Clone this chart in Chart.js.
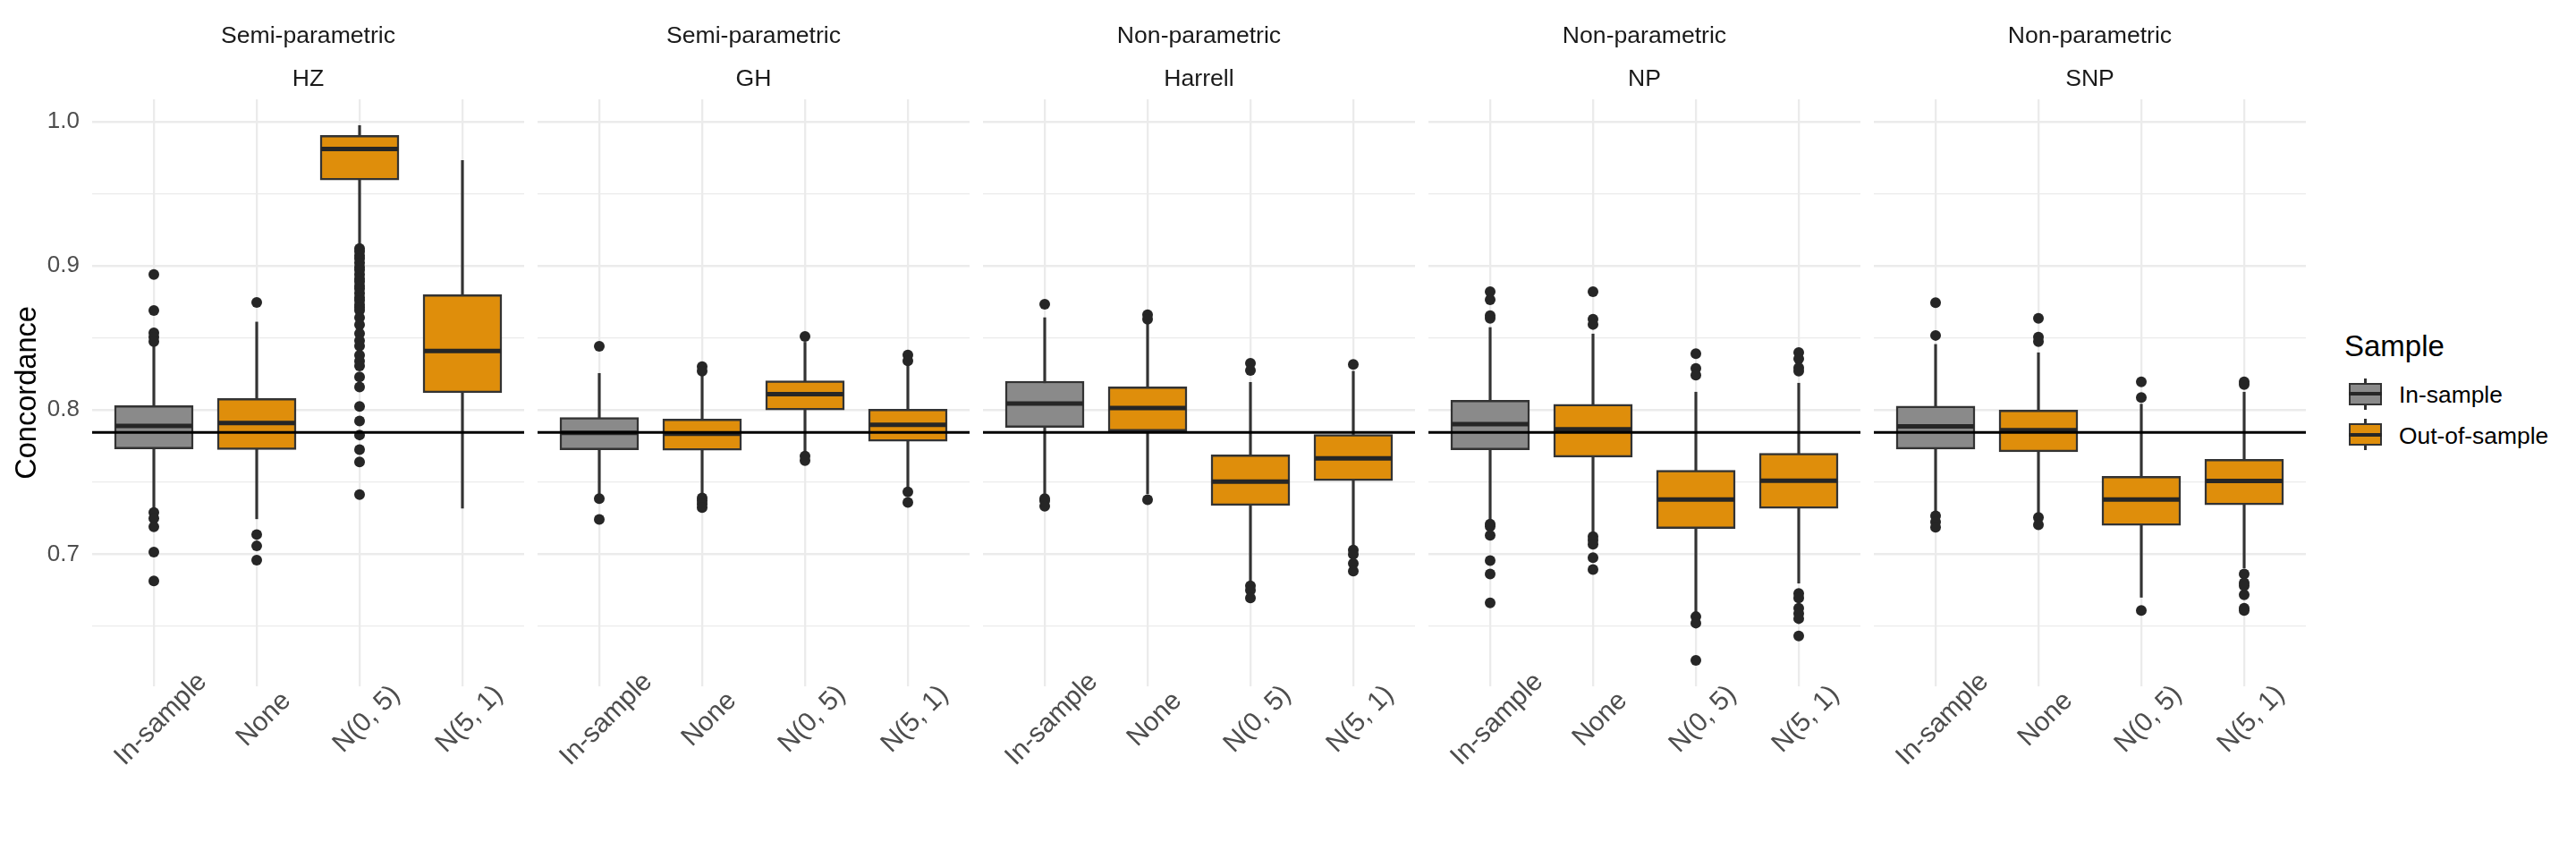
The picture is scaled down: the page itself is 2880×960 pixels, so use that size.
<!DOCTYPE html>
<html>
<head>
<meta charset="utf-8">
<script src="https://cdn.jsdelivr.net/npm/chart.js@4.4.1/dist/chart.umd.min.js"></script>
<style>
html,body{margin:0;padding:0;background:#ffffff;}
#wrap{position:relative;width:2880px;height:960px;overflow:hidden;font-family:"Liberation Sans",Arial,sans-serif;background:#fff;}
#wrap canvas{position:absolute;top:0;}
.leg{position:absolute;white-space:nowrap;}
</style>
</head>
<body>
<div id="wrap"></div>
<script>
// ---------------- DATA ----------------
const panelGroups = ["Semi-parametric", "Semi-parametric", "Non-parametric", "Non-parametric", "Non-parametric"];
const methods = ["HZ", "GH", "Harrell", "NP", "SNP"];
const conditions = ["In-sample", "None", "N(0, 5)", "N(5, 1)"];
const sampleOfCondition = ["In-sample", "Out-of-sample", "Out-of-sample", "Out-of-sample"];
const sampleLevels = ["In-sample", "Out-of-sample"];
const referenceConcordance = 0.7845;
const yTickValues = [0.65, 0.70, 0.75, 0.80, 0.85, 0.90, 0.95, 1.00];
const yMajorLabels = [0.7, 0.8, 0.9, 1.0];

// rows: methods (HZ, GH, Harrell, NP, SNP); columns: conditions
const whiskerLow = [
  [0.7315, 0.7246, 0.914, 0.732],
  [0.742, 0.7421, 0.771, 0.7463],
  [0.7421, 0.742, 0.680, 0.706],
  [0.7242, 0.7153, 0.6595, 0.680],
  [0.7287, 0.7277, 0.6702, 0.6905]
];
const quartile1 = [
  [0.773, 0.7726, 0.9594, 0.812],
  [0.7725, 0.7721, 0.800, 0.7783],
  [0.788, 0.7855, 0.7339, 0.751],
  [0.7725, 0.7674, 0.7178, 0.7318],
  [0.7729, 0.7711, 0.720, 0.7343]
];
const medians = [
  [0.789, 0.791, 0.981, 0.841],
  [0.7841, 0.7835, 0.811, 0.7897],
  [0.8045, 0.8014, 0.7504, 0.7665],
  [0.7903, 0.7866, 0.738, 0.751],
  [0.7886, 0.786, 0.738, 0.7508]
];
const quartile3 = [
  [0.803, 0.808, 0.9904, 0.880],
  [0.7948, 0.7938, 0.8202, 0.8006],
  [0.820, 0.8161, 0.769, 0.783],
  [0.8068, 0.8039, 0.7583, 0.770],
  [0.8027, 0.800, 0.7541, 0.7659]
];
const whiskerHigh = [
  [0.846, 0.861, 0.9972, 0.973],
  [0.8254, 0.8238, 0.847, 0.8316],
  [0.864, 0.860, 0.8192, 0.8269],
  [0.8572, 0.8527, 0.8124, 0.8186],
  [0.8455, 0.8397, 0.8041, 0.8124]
];

const outliersHZ = [
  [0.894, 0.869, 0.8535, 0.8505, 0.8475, 0.729, 0.725, 0.719, 0.7015, 0.6815],
  [0.8746, 0.7137, 0.7058, 0.696],
  [0.912, 0.910, 0.907, 0.905, 0.902, 0.899, 0.897, 0.894, 0.891, 0.889, 0.886, 0.884, 0.881, 0.878,
   0.876, 0.873, 0.871, 0.869, 0.864, 0.859, 0.853, 0.848, 0.8444, 0.838, 0.834, 0.8305, 0.823, 0.816,
   0.8025, 0.7924, 0.7827, 0.7726, 0.764, 0.7414],
  []
];
const outliersGH = [
  [0.8442, 0.7386, 0.7242],
  [0.830, 0.8269, 0.739, 0.737, 0.7349, 0.7324],
  [0.851, 0.768, 0.7649],
  [0.8382, 0.8341, 0.7432, 0.736]
];
const outliersHarrell = [
  [0.8733, 0.7386, 0.737, 0.7333],
  [0.8661, 0.863, 0.7378],
  [0.8324, 0.8275, 0.6781, 0.675, 0.6698],
  [0.8316, 0.7029, 0.700, 0.6936, 0.6884]
];
const outliersNP = [
  [0.882, 0.8765, 0.8655, 0.8635, 0.7209, 0.7194, 0.7132, 0.6957, 0.6864, 0.6663],
  [0.882, 0.863, 0.8593, 0.7122, 0.7097, 0.707, 0.6977, 0.6895],
  [0.839, 0.8289, 0.8242, 0.6568, 0.6523, 0.6265],
  [0.8399, 0.8355, 0.8293, 0.8269, 0.6729, 0.6698, 0.6626, 0.6589, 0.6554, 0.6434]
];
const outliersSNP = [
  [0.8744, 0.8517, 0.7266, 0.7225, 0.7188],
  [0.8636, 0.8506, 0.8475, 0.7256, 0.7205],
  [0.8196, 0.8087, 0.661],
  [0.8196, 0.8176, 0.6864, 0.6802, 0.6781, 0.6719, 0.6626, 0.661]
];
const outliers = [outliersHZ, outliersGH, outliersHarrell, outliersNP, outliersSNP];

// ---------------- STYLE / LAYOUT ----------------
const FONT = '"Liberation Sans", Arial, Helvetica, sans-serif';
const FILL = {"In-sample": "#8A8A8A", "Out-of-sample": "#DF8E0B"};
const LINE = "#333333";
const DOT = "#262626";
const GRID = "#EBEBEB";
const X_MIN = -0.6, X_MAX = 3.6;
const Y_MIN = 0.6085, Y_MAX = 1.0154;
const CANVAS_LEFT = [0, 601, 1099, 1597, 2095];
const Y_AXIS_W = 103;
const PANEL_W = 483;
const H = 960;

function isMajor(v) {
  return yMajorLabels.some(m => Math.abs(m - v) < 1e-6);
}

const xLabelPlugin = {
  id: 'rotatedXLabels',
  afterDraw(chart) {
    const ctx = chart.ctx;
    const sx = chart.scales.x;
    const yc = chart.chartArea.bottom + 37;
    ctx.save();
    ctx.font = '30px ' + FONT;
    ctx.fillStyle = '#4D4D4D';
    ctx.textAlign = 'center';
    ctx.textBaseline = 'middle';
    conditions.forEach((lab, j) => {
      const px = sx.getPixelForValue(j);
      ctx.save();
      ctx.translate(px + 8, yc);
      ctx.rotate(-Math.PI / 4);
      ctx.fillText(lab, 0, 0);
      ctx.restore();
    });
    ctx.restore();
  }
};

const wrap = document.getElementById('wrap');

methods.forEach((m, i) => {
  const first = i === 0;
  const cv = document.createElement('canvas');
  const w = first ? Y_AXIS_W + PANEL_W : PANEL_W;
  cv.width = w; cv.height = H;
  cv.style.left = CANVAS_LEFT[i] + 'px';
  cv.style.width = w + 'px'; cv.style.height = H + 'px';
  wrap.appendChild(cv);

  const boxes = conditions.map((c, j) => ({x: j, y: [quartile1[i][j], quartile3[i][j]]}));
  const whiskers = conditions.map((c, j) => ({x: j, y: [whiskerLow[i][j], whiskerHigh[i][j]]}));
  const meds = conditions.map((c, j) => ({x: j, y: medians[i][j]}));
  const outs = [];
  outliers[i].forEach((arr, j) => arr.forEach(v => outs.push({x: j, y: v})));
  const fills = sampleOfCondition.map(s => FILL[s]);

  new Chart(cv, {
    type: 'bar',
    data: {
      datasets: [
        {type: 'bar', label: 'whisker', data: whiskers, backgroundColor: LINE, borderWidth: 0,
         barThickness: 2.5, grouped: false, order: 4},
        {type: 'bar', label: 'box', data: boxes, backgroundColor: fills, borderColor: LINE, borderWidth: 2.5,
         borderSkipped: false, barThickness: 88, grouped: false, order: 3},
        {type: 'scatter', label: 'median', data: meds, pointStyle: 'line', pointRadius: 43,
         pointBorderColor: '#262626', pointBorderWidth: 5, pointBackgroundColor: '#262626', order: 2},
        {type: 'scatter', label: 'outliers', data: outs, pointStyle: 'circle', pointRadius: 6,
         pointBackgroundColor: DOT, pointBorderWidth: 0, pointBorderColor: DOT, order: 1},
        {type: 'line', label: 'reference', data: [{x: X_MIN, y: referenceConcordance}, {x: X_MAX, y: referenceConcordance}],
         borderColor: '#000000', borderWidth: 3, pointRadius: 0, fill: false, order: 0}
      ]
    },
    options: {
      responsive: false,
      animation: false,
      events: [],
      devicePixelRatio: 1,
      layout: {autoPadding: false, padding: {top: 0, bottom: H - 767, left: 0, right: 0}},
      plugins: {
        legend: {display: false},
        tooltip: {enabled: false},
        title: {display: true, text: panelGroups[i], color: '#1A1A1A', fullSize: false,
                font: {family: FONT, size: 26.6, weight: 'normal'}, padding: {top: 24.8, bottom: 0}},
        subtitle: {display: true, text: m, color: '#1A1A1A', fullSize: false,
                   font: {family: FONT, size: 26.6, weight: 'normal'}, padding: {top: 16.4, bottom: 5.9}}
      },
      scales: {
        x: {
          type: 'linear', min: X_MIN, max: X_MAX, offset: false,
          afterBuildTicks: s => { s.ticks = conditions.map((c, j) => ({value: j})); },
          grid: {color: GRID, lineWidth: 2.3, drawTicks: false, offset: false},
          border: {display: false},
          ticks: {display: false}
        },
        y: {
          type: 'linear', min: Y_MIN, max: Y_MAX,
          afterBuildTicks: s => { s.ticks = yTickValues.map(v => ({value: v})); },
          afterFit: s => { s.width = first ? Y_AXIS_W : 0; },
          grid: {color: GRID, lineWidth: ctx => (ctx.tick && isMajor(ctx.tick.value)) ? 2.4 : 1.2, drawTicks: false},
          border: {display: false},
          ticks: {display: first, color: '#4D4D4D', font: {family: FONT, size: 26}, padding: 14,
                  callback: v => isMajor(v) ? v.toFixed(1) : ''},
          title: {display: first, text: 'Concordance', color: '#000000',
                  font: {family: FONT, size: 32.6}, padding: {top: 11, bottom: 0}}
        }
      }
    },
    plugins: [xLabelPlugin]
  });
});

// ---------------- LEGEND (HTML) ----------------
(function () {
  const title = document.createElement('div');
  title.className = 'leg';
  title.textContent = 'Sample';
  title.style.cssText = 'left:2621px;top:367px;font-size:33px;line-height:40px;color:#000;';
  wrap.appendChild(title);
  const centers = [440, 485.5];
  sampleLevels.forEach((s, r) => {
    const cy = centers[r];
    const wh = document.createElement('div');
    wh.className = 'leg';
    wh.style.cssText = `left:2643.25px;top:${cy - 17.5}px;width:2.5px;height:35px;background:${LINE};`;
    const bx = document.createElement('div');
    bx.className = 'leg';
    bx.style.cssText = `left:2626px;top:${cy - 12.5}px;width:37px;height:25px;box-sizing:border-box;border:2.5px solid ${LINE};background:${FILL[s]};`;
    const md = document.createElement('div');
    md.className = 'leg';
    md.style.cssText = `left:2626px;top:${cy - 2}px;width:37px;height:4px;background:#262626;`;
    const lb = document.createElement('div');
    lb.className = 'leg';
    lb.textContent = s;
    lb.style.cssText = `left:2682px;top:${cy + 1 - 20}px;font-size:26.4px;line-height:40px;color:#000;`;
    wrap.appendChild(wh); wrap.appendChild(bx); wrap.appendChild(md); wrap.appendChild(lb);
  });
})();
</script>
</body>
</html>
